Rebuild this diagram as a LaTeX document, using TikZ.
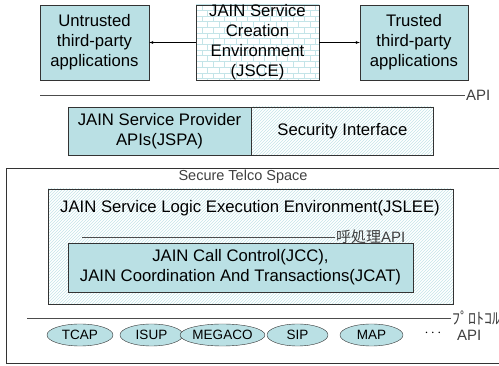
\documentclass[tikz,border=0pt]{standalone}
\usepackage{fontspec}
\setmainfont{Liberation Sans}
\newfontfamily\jpfont{Noto Sans CJK JP}
\usetikzlibrary{shapes,arrows,patterns}

\definecolor{boxcyan}{RGB}{186,224,228}
\definecolor{hatchcyan}{RGB}{196,228,232}
\definecolor{textgray}{RGB}{64,64,64}

\begin{document}
\begin{tikzpicture}[x=1pt,y=-1pt,
    box/.style={draw=black!80,fill=boxcyan,align=center,inner sep=0pt,
      font=\fontsize{16.7}{20}\selectfont},
    brickbox/.style={draw=black!80,pattern=bricks,pattern color=hatchcyan,
      align=center,inner sep=0pt,font=\fontsize{16.7}{20}\selectfont},
    hatchbox/.style={draw=black!80,pattern=north east lines,pattern color=hatchcyan,
      align=center,inner sep=0pt,font=\fontsize{16.7}{20}\selectfont},
    proto/.style={ellipse,draw=black!80,fill=boxcyan,minimum height=22pt,
      inner sep=0pt,font=\fontsize{13.5}{15}\selectfont},
    apilabel/.style={anchor=west,inner sep=1pt,text=textgray,
      font=\fontsize{15}{17}\selectfont}
  ]
    \useasboundingbox (0,0) rectangle (499,366);

    \node[box,minimum width=109pt,minimum height=75pt] (untrusted) at (94.5,42.5)
      {Untrusted\\third-party\\applications};
    \node[brickbox,minimum width=123pt,minimum height=75pt] (jsce) at (257.5,42.5)
      {JAIN Service\\Creation\\Environment\\(JSCE)};
    \node[box,minimum width=108pt,minimum height=75pt] (trusted) at (414,42.5)
      {Trusted\\third-party\\applications};
    \draw[-latex] (jsce) -- (untrusted);
    \draw[-latex] (jsce) -- (trusted);

    \coordinate (apileft) at (40,95);
    \node[apilabel] (api) at (465,95) {API};
    \draw[black!70] (apileft) -- (api.west);

    \node[box,minimum width=183pt,minimum height=48pt] (jspa) at (159.5,131)
      {JAIN Service Provider\\APIs(JSPA)};
    \node[hatchbox,minimum width=182pt,minimum height=48pt,anchor=west] (security)
      at (jspa.east) {Security Interface};

    % secure telco space
    \node[draw=black!80,minimum width=520pt,minimum height=195pt,anchor=north west,
      inner sep=0pt] (telco) at (6,168) {};
    \node[text=textgray,font=\fontsize{14.5}{16}\selectfont] (telcolabel) at (243,177)
      {Secure Telco Space};

    \node[hatchbox,minimum width=405pt,minimum height=115pt] (jslee) at (250.5,246.5) {};
    \node[font=\fontsize{16.7}{20}\selectfont] (jsleelabel) at (250,208)
      {JAIN Service Logic Execution Environment(JSLEE)};

    \coordinate (callleft) at (82,237);
    \node[apilabel] (callapi) at (335,237) {{\jpfont 呼処理}API};
    \draw[black!70] (callleft) -- (callapi.west);

    \node[box,minimum width=345pt,minimum height=49pt] (jcc) at (240.5,267.5)
      {JAIN Call Control(JCC),\\JAIN Coordination And Transactions(JCAT)};

    \coordinate (protoleft) at (27,318);
    \node[apilabel,font=\fontsize{16}{17}\selectfont] (protoapi) at (451,318)
      {{\jpfont ﾌﾟﾛﾄｺﾙ}};
    \node[apilabel] (protoapi2) at (456,335) {API};
    \draw[black!70] (protoleft) -- (protoapi.west);

    \node[proto,minimum width=66pt] (tcap) at (80,335) {TCAP};
    \node[proto,minimum width=63pt] (isup) at (151.5,335) {ISUP};
    \node[proto,minimum width=59pt] (megaco) at (222.5,335) {MEGACO};
    \node[proto,minimum width=61pt] (sip) at (297.5,335) {SIP};
    \node[proto,minimum width=63pt] (map) at (371.5,335) {MAP};
    \node[font=\fontsize{14}{15}\selectfont] (dots) at (433,333) {$\cdots$};
  \end{tikzpicture}
\end{document}
